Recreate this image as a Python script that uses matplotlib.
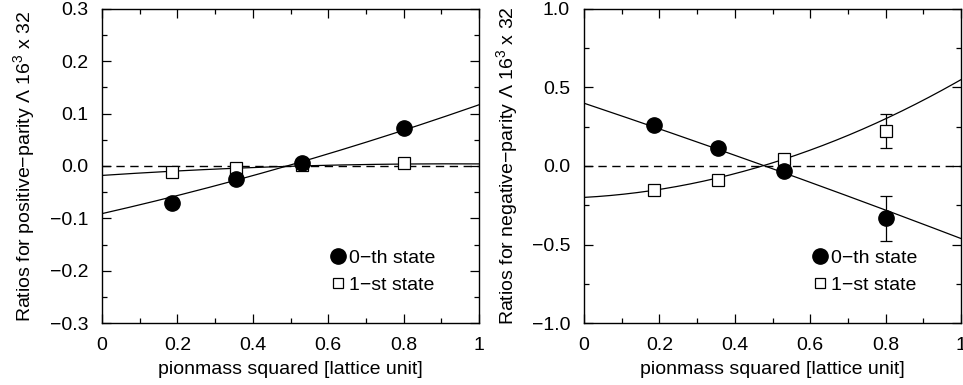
import numpy as np
import matplotlib
matplotlib.use("Agg")
import matplotlib.pyplot as plt
from matplotlib.lines import Line2D
from matplotlib.ticker import MultipleLocator, FuncFormatter

plt.rcParams["font.family"] = ["Liberation Sans", "DejaVu Sans"]
plt.rcParams["mathtext.fontset"] = "custom"
plt.rcParams["mathtext.rm"] = "Liberation Sans"
plt.rcParams["axes.unicode_minus"] = True

# pion mass squared of the four ensembles
mpi2 = [0.185, 0.355, 0.53, 0.80]

# positive parity
pos_0th = [-0.070, -0.025, 0.006, 0.072]
pos_0th_err = [0.004, 0.004, 0.004, 0.006]
pos_1st = [-0.012, -0.003, 0.001, 0.005]
pos_1st_err = [0.003, 0.003, 0.003, 0.004]
pos_fit_0th = [-0.091, 0.164, 0.044]   # c0, c1, c2
pos_fit_1st = [-0.018, 0.048, -0.026]

# negative parity
neg_0th = [0.262, 0.113, -0.032, -0.334]
neg_0th_err = [0.02, 0.02, 0.02, 0.144]
neg_1st = [-0.153, -0.089, 0.047, 0.223]
neg_1st_err = [0.02, 0.015, 0.025, 0.11]
neg_fit_0th = [0.40, -0.807, -0.055]
neg_fit_1st = [-0.20, 0.13, 0.62]

FS = 14


def fmt_x(v, pos):
    if abs(v) < 1e-9:
        return "0"
    if abs(v - 1) < 1e-9:
        return "1"
    return f"{v:.1f}"


def fmt_y(v, pos):
    return f"{v:.1f}".replace("-", "\u2212")


def panel(ax, y0, e0, y1, e1, fit0, fit1, ylim, ymaj, ymin, ylabel):
    xs = np.linspace(0, 1, 200)
    ax.axhline(0, color="black", lw=1.0, dashes=(6, 4))
    ax.plot(xs, np.polyval(fit0[::-1], xs), color="black", lw=0.9)
    ax.plot(xs, np.polyval(fit1[::-1], xs), color="black", lw=0.9)
    ax.errorbar(mpi2, y1, yerr=e1, fmt="s", ms=8, mfc="white", mec="black",
                mew=0.9, ecolor="black", elinewidth=0.9, capsize=4, capthick=0.9)
    ax.errorbar(mpi2, y0, yerr=e0, fmt="o", ms=11, mfc="black", mec="black",
                ecolor="black", elinewidth=0.9, capsize=4, capthick=0.9)
    ax.set_xlim(0, 1)
    ax.set_ylim(*ylim)
    ax.xaxis.set_major_locator(MultipleLocator(0.2))
    ax.xaxis.set_minor_locator(MultipleLocator(0.1))
    ax.yaxis.set_major_locator(MultipleLocator(ymaj))
    ax.yaxis.set_minor_locator(MultipleLocator(ymin))
    ax.xaxis.set_major_formatter(FuncFormatter(fmt_x))
    ax.yaxis.set_major_formatter(FuncFormatter(fmt_y))
    ax.tick_params(which="both", direction="in", top=True, right=True,
                   labelsize=FS, width=0.9)
    ax.tick_params(which="major", length=6.5)
    ax.tick_params(which="minor", length=3.5)
    ax.tick_params(axis="x", which="major", pad=10)
    ax.tick_params(axis="y", which="major", pad=10)
    for sp in ax.spines.values():
        sp.set_linewidth(1.0)
    ax.set_xlabel("pionmass squared [lattice unit]", fontsize=FS, labelpad=5)
    ax.set_ylabel(ylabel, fontsize=FS, labelpad=8)
    handles = [
        Line2D([], [], ls="none", marker="o", ms=11, mfc="black", mec="black"),
        Line2D([], [], ls="none", marker="s", ms=7, mfc="white", mec="black",
               mew=0.9),
    ]
    ax.legend(handles, ["0\u2212th state", "1\u2212st state"], loc="upper left",
              bbox_to_anchor=(0.605, 0.236), frameon=False, fontsize=FS,
              handlelength=0.8, handletextpad=0.15, labelspacing=0.5,
              borderaxespad=0, borderpad=0)


fig = plt.figure(figsize=(9.63, 3.85), dpi=100)
ax1 = fig.add_axes([102 / 963, 62 / 385, 377 / 963, 314 / 385])
ax2 = fig.add_axes([584 / 963, 62 / 385, 377 / 963, 314 / 385])

panel(ax1, pos_0th, pos_0th_err, pos_1st, pos_1st_err, pos_fit_0th, pos_fit_1st,
      (-0.3, 0.3), 0.1, 0.05,
      "Ratios for positive\u2212parity \u039b 16$^{3}$ x 32")
panel(ax2, neg_0th, neg_0th_err, neg_1st, neg_1st_err, neg_fit_0th, neg_fit_1st,
      (-1.0, 1.0), 0.5, 0.25,
      "Ratios for negative\u2212parity \u039b 16$^{3}$ x 32")

fig.savefig("out.png", dpi=100)
